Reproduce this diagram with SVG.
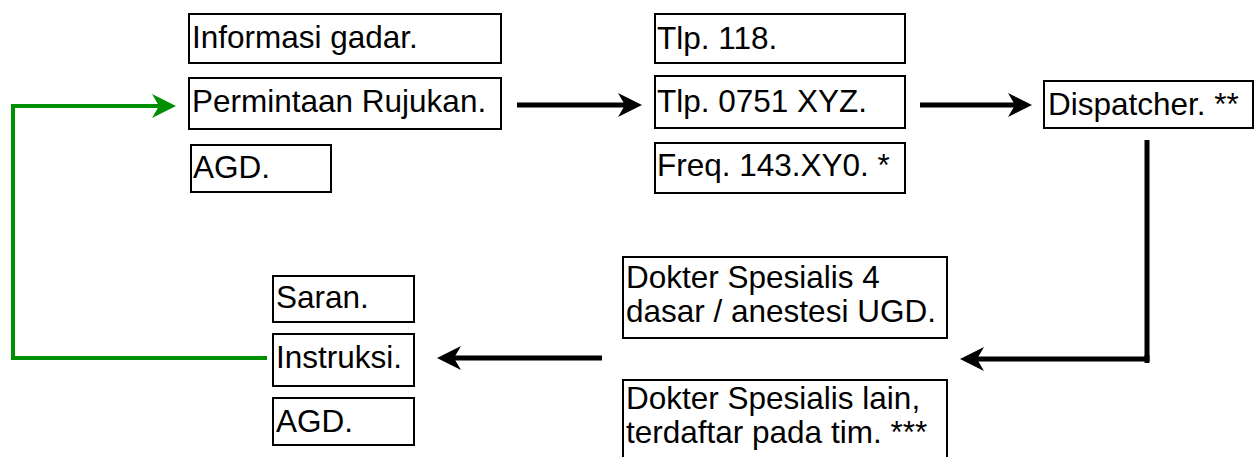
<svg xmlns="http://www.w3.org/2000/svg" width="1255" height="457" viewBox="0 0 1255 457">
<style>
.box{fill:#fff;stroke:#000;stroke-width:2}
.t{font-family:"Liberation Sans",Arial,sans-serif;font-size:31.5px;fill:#000}
.ln{fill:none;stroke:#000;stroke-width:5}
.gl{fill:none;stroke:#008f00;stroke-width:4}
</style>
<rect width="1255" height="457" fill="#fff"/>
<g id="connectors">
  <line class="ln" x1="517" y1="105" x2="626" y2="105"/>
  <path d="M642,105 L618,93 L625,105 L618,117 Z" fill="#000"/>
  <line class="ln" x1="920" y1="105" x2="1016" y2="105"/>
  <path d="M1032,105 L1008,93 L1015,105 L1008,117 Z" fill="#000"/>
  <polyline class="ln" points="1147,140 1147,359 976,359"/>
  <line class="ln" x1="1147" y1="355" x2="1147" y2="363"/>
  <path d="M960,359 L984,347 L977,359 L984,371 Z" fill="#000"/>
  <line class="ln" x1="602" y1="358" x2="453" y2="358"/>
  <path d="M437,358 L461,346 L454,358 L461,370 Z" fill="#000"/>
  <polyline class="gl" points="267,358 13,358 13,106 160,106"/>
  <path d="M176,106 L152,94 L159,106 L152,118 Z" fill="#008f00"/>
</g>
<g id="informasi"><rect class="box" x="189" y="14" width="312" height="49"/><text class="t" x="192" y="48">Informasi gadar.</text></g>
<g id="permintaan"><rect class="box" x="189" y="78" width="312" height="51"/><text class="t" x="192" y="112">Permintaan Rujukan.</text></g>
<g id="agd1"><rect class="box" x="191" y="145" width="140" height="47"/><text class="t" x="193" y="178">AGD.</text></g>
<g id="tlp118"><rect class="box" x="655" y="14" width="250" height="49"/><text class="t" x="657" y="49">Tlp. 118.</text></g>
<g id="tlp0751"><rect class="box" x="655" y="76" width="250" height="52"/><text class="t" x="657" y="112">Tlp. 0751 XYZ.</text></g>
<g id="freq"><rect class="box" x="655" y="143" width="250" height="50"/><text class="t" x="657" y="176">Freq. 143.XY0. *</text></g>
<g id="dispatcher"><rect class="box" x="1044" y="81" width="209" height="47"/><text class="t" x="1048" y="115">Dispatcher. **</text></g>
<g id="dokter4"><rect class="box" x="623" y="257" width="324" height="81"/><text class="t" x="626" y="288">Dokter Spesialis 4</text><text class="t" x="626" y="322">dasar / anestesi UGD.</text></g>
<g id="dokterlain"><rect class="box" x="623" y="380" width="324" height="80"/><text class="t" x="626" y="409">Dokter Spesialis lain,</text><text class="t" x="626" y="443">terdaftar pada tim. ***</text></g>
<g id="saran"><rect class="box" x="273" y="276" width="141" height="46"/><text class="t" x="276" y="308">Saran.</text></g>
<g id="instruksi"><rect class="box" x="273" y="334" width="141" height="52"/><text class="t" x="276" y="368">Instruksi.</text></g>
<g id="agd2"><rect class="box" x="273" y="398" width="141" height="47"/><text class="t" x="276" y="432">AGD.</text></g>
</svg>
